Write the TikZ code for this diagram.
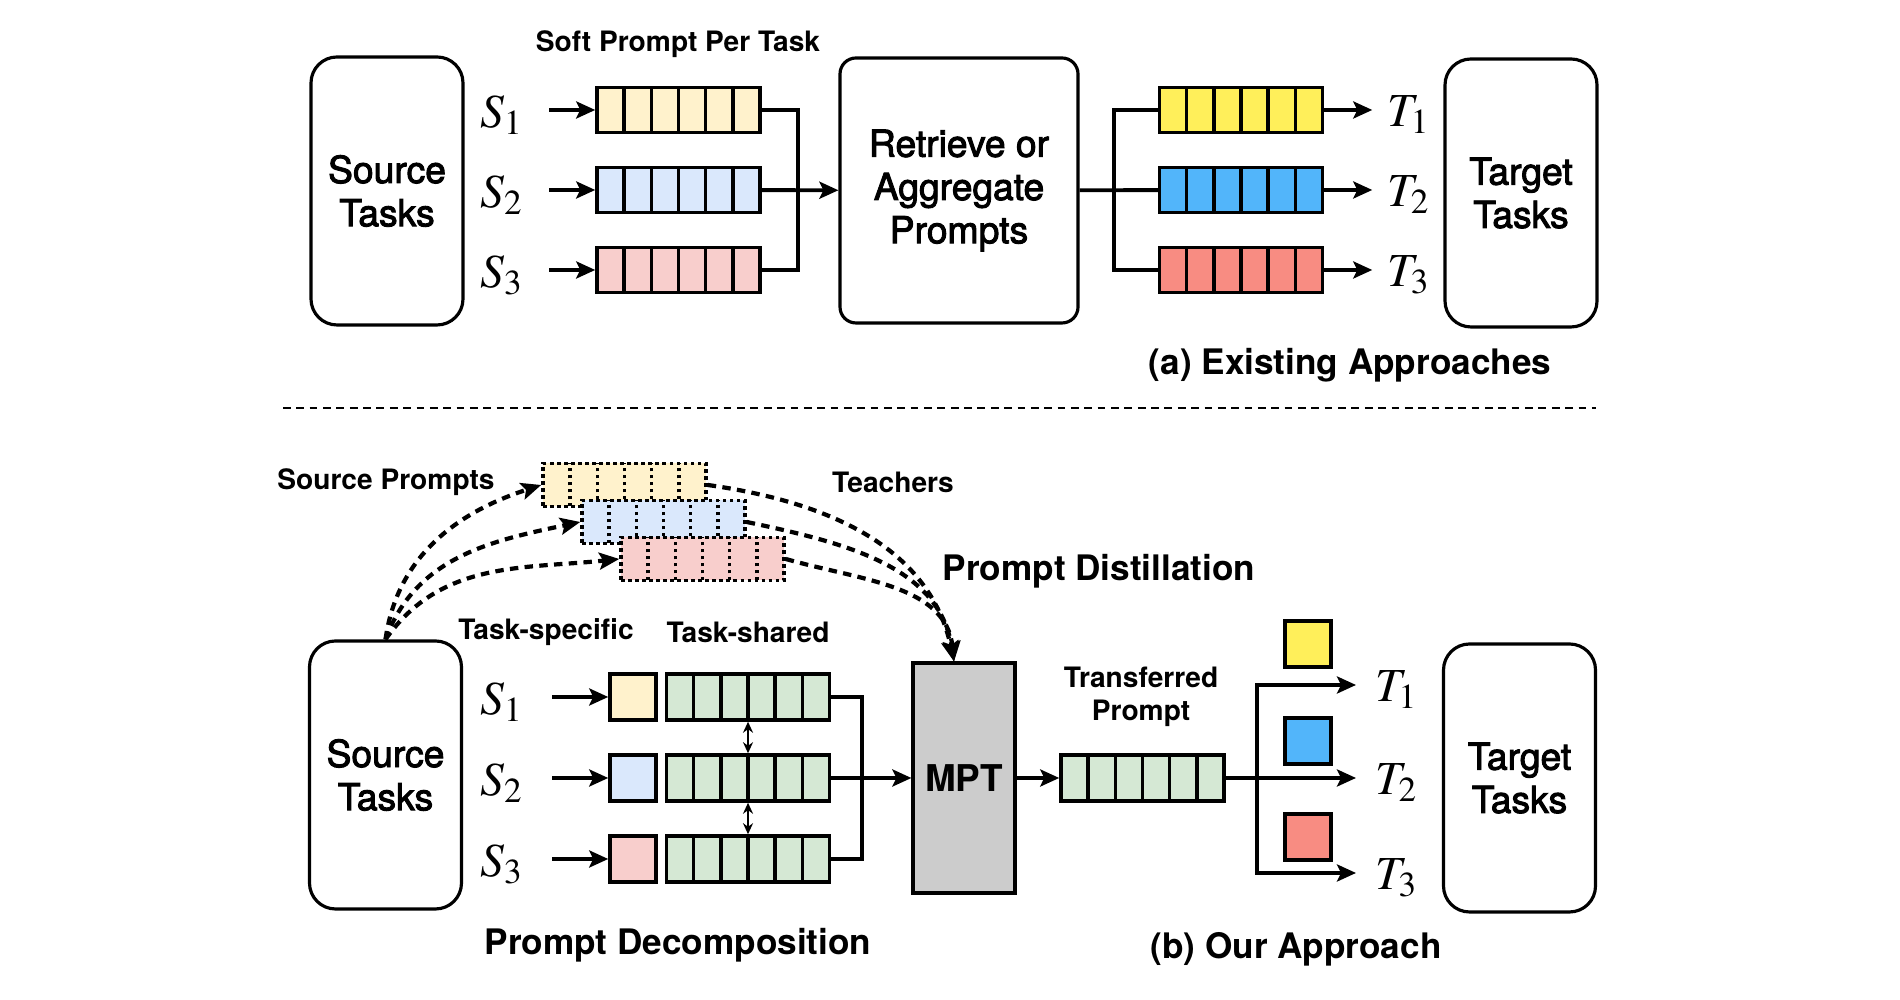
\documentclass[tikz,border=0pt]{standalone}
\usepackage{mathptmx}
\usepackage{fontspec}
\setmainfont{TeX Gyre Heros}
\newfontfamily\boxfont{TeX Gyre Heros}[FakeBold=2.5]
\usetikzlibrary{positioning,arrows.meta}

\definecolor{ylight}{HTML}{FFF2CC}
\definecolor{blight}{HTML}{DAE8FC}
\definecolor{rlight}{HTML}{F8CECC}
\definecolor{glight}{HTML}{D5E8D4}
\definecolor{ybright}{HTML}{FFEF5A}
\definecolor{bbright}{HTML}{52B5FA}
\definecolor{rbright}{HTML}{F88C82}
\definecolor{mptgray}{HTML}{CCCCCC}

\tikzset{
  taskbox/.style={draw, line width=0.9pt, rounded corners=2.6mm, minimum width=1.52cm, minimum height=2.68cm, align=center, font=\boxfont\fontsize{10.6}{12.3}\selectfont},
  promptcells/.style={path picture={\foreach \k in {1,...,5}{\draw[line width=1pt,#1] ([xshift=\k*2.717mm]path picture bounding box.south west) -- ([xshift=\k*2.717mm]path picture bounding box.north west);}}},
  promptbar/.style={draw, line width=1pt, minimum width=1.63cm, minimum height=0.45cm, inner sep=0pt, promptcells={solid}},
  dotbar/.style={draw, line width=1pt, densely dotted, minimum width=1.63cm, minimum height=0.43cm, inner sep=0pt, promptcells={densely dotted}},
  sqbox/.style={draw, line width=1pt, minimum size=0.46cm, inner sep=0pt},
  mlbl/.style={inner sep=0pt, yshift=-0.5mm, font=\fontsize{13.5}{14}\selectfont},
  lbl/.style={inner sep=0pt, align=center, font=\bfseries\fontsize{8}{9.5}\selectfont},
  captext/.style={inner sep=0pt, font=\bfseries\fontsize{10}{12}\selectfont},
  arr/.style={line width=1.1pt, -{Stealth[length=1.9mm, width=1.7mm, inset=0.4mm]}},
  link/.style={line width=1.1pt},
  darr/.style={line width=1.2pt, dash pattern=on 2.4pt off 1.8pt, -{Stealth[length=2mm, width=1.7mm, inset=0.4mm]}},
  dblarr/.style={line width=0.6pt, {Stealth[length=1.1mm, width=1mm]}-{Stealth[length=1.1mm, width=1mm]}},
}

\begin{document}
\begin{tikzpicture}[node distance=7mm]
  \useasboundingbox (0,0) rectangle (19,10);
  % (a) existing approaches
  \node[taskbox] (srcA) at (3.87,8.09) {Source\\Tasks};
  \node[taskbox, rounded corners=1.6mm, minimum width=2.38cm, minimum height=2.65cm] (ret) at (9.59,8.095) {Retrieve or\\Aggregate\\Prompts};
  \node[taskbox] (tgtA) at (15.21,8.07) {Target\\Tasks};
  \node[lbl] (softlbl) at (6.78,9.56) {Soft Prompt Per Task};
  \foreach \i/\y/\ca/\cb in {1/8.90/ylight/ybright, 2/8.10/blight/bbright, 3/7.30/rlight/rbright}{
    \node[promptbar, fill=\ca] (pA\i) at (6.785,\y) {};
    \node[promptbar, fill=\cb] (qA\i) at (12.41,\y) {};
    \node[mlbl, left=0.71cm of pA\i] (sA\i) {$S_\i$};
    \node[mlbl, right=0.63cm of qA\i] (tA\i) {$T_\i$};
    \draw[arr, shorten <=2.5mm] (sA\i.east |- pA\i) -- (pA\i);
    \draw[arr, shorten >=1.5mm] (qA\i) -- (tA\i.west |- qA\i);
  }
  \coordinate (mA) at (7.98,8.10);
  \coordinate (mB) at (11.14,8.10);
  \draw[link] (pA1) -| (mA) |- (pA3);
  \draw[arr] (pA2) -- (ret);
  \draw[link] (qA1) -| (mB) |- (qA3);
  \draw[link] (ret) -- (qA2);
  \node[captext] (capA) at (13.50,6.35) {(a) Existing Approaches};

  % separator
  \coordinate (sepL) at (2.83,5.92);
  \coordinate (sepR) at (15.96,5.92);
  \draw[line width=0.8pt, dash pattern=on 2.2pt off 1.6pt] (sepL) -- (sepR);

  % (b) our approach
  \node[taskbox] (srcB) at (3.855,2.25) {Source\\Tasks};
  \node[taskbox] (tgtB) at (15.195,2.22) {Target\\Tasks};
  \node[draw, fill=mptgray, line width=0.9pt, minimum width=1.02cm, minimum height=2.30cm, font=\bfseries\fontsize{10.5}{12}\selectfont] (mpt) at (9.64,2.22) {MPT};
  \node[dotbar, fill=ylight] (dp1) at (6.245,5.15) {};
  \node[dotbar, fill=blight] (dp2) at (6.635,4.78) {};
  \node[dotbar, fill=rlight] (dp3) at (7.025,4.41) {};
  \node[lbl] (srclbl) at (3.86,5.18) {Source Prompts};
  \node[lbl] (teachlbl) at (8.93,5.18) {Teachers};
  \node[captext] (distlbl) at (10.99,4.29) {Prompt Distillation};
  \draw[darr] (srcB.north) to[out=82,in=198] (dp1.west);
  \draw[darr] (srcB.north) to[out=70,in=192] (dp2.west);
  \draw[darr] (srcB.north) to[out=55,in=186] (dp3.west);
  \draw[darr] (dp1.east) to[out=-8,in=102] ([xshift=-1mm]mpt.north);
  \draw[darr] (dp2.east) to[out=-12,in=99] ([xshift=-1mm]mpt.north);
  \draw[darr] (dp3.east) to[out=-16,in=96] ([xshift=-1mm]mpt.north);

  \node[lbl] (speclbl) at (5.46,3.68) {Task-specific};
  \node[lbl] (sharedlbl) at (7.48,3.68) {Task-shared};
  \foreach \i/\y/\ca in {1/3.03/ylight, 2/2.22/blight, 3/1.41/rlight}{
    \node[sqbox, fill=\ca] (tsp\i) at (6.33,\y) {};
    \node[promptbar, fill=glight, minimum height=0.46cm, right=0.07cm of tsp\i] (shr\i) {};
    \node[mlbl, left=0.84cm of tsp\i] (sB\i) {$S_\i$};
    \draw[arr, shorten <=2.8mm] (sB\i.east |- tsp\i) -- (tsp\i);
  }
  \draw[dblarr] (shr1) -- (shr2);
  \draw[dblarr] (shr2) -- (shr3);
  \coordinate (mC) at (8.62,2.22);
  \draw[link] (shr1) -| (mC) |- (shr3);
  \draw[arr] (shr2) -- (mpt);

  \node[promptbar, fill=glight, minimum height=0.46cm] (tp) at (11.425,2.22) {};
  \node[lbl] (tplbl) at (11.41,3.03) {Transferred\\Prompt};
  \draw[arr] (mpt) -- (tp);
  \coordinate (mD) at (12.57,2.22);
  \foreach \i/\y/\yq/\cb in {1/3.15/3.56/ybright, 2/2.22/2.59/bbright, 3/1.27/1.63/rbright}{
    \coordinate (eB\i) at (13.56,\y);
    \node[sqbox, fill=\cb] (oq\i) at (13.08,\yq) {};
    \node[mlbl, right=1.9mm of eB\i] (tB\i) {$T_\i$};
  }
  \draw[arr] (mD) |- (eB1);
  \draw[arr] (mD) |- (eB3);
  \draw[arr] (tp) -- (eB2);
  \node[captext] (capD) at (6.78,0.55) {Prompt Decomposition};
  \node[captext] (capB) at (12.96,0.51) {(b) Our Approach};
\end{tikzpicture}
\end{document}
